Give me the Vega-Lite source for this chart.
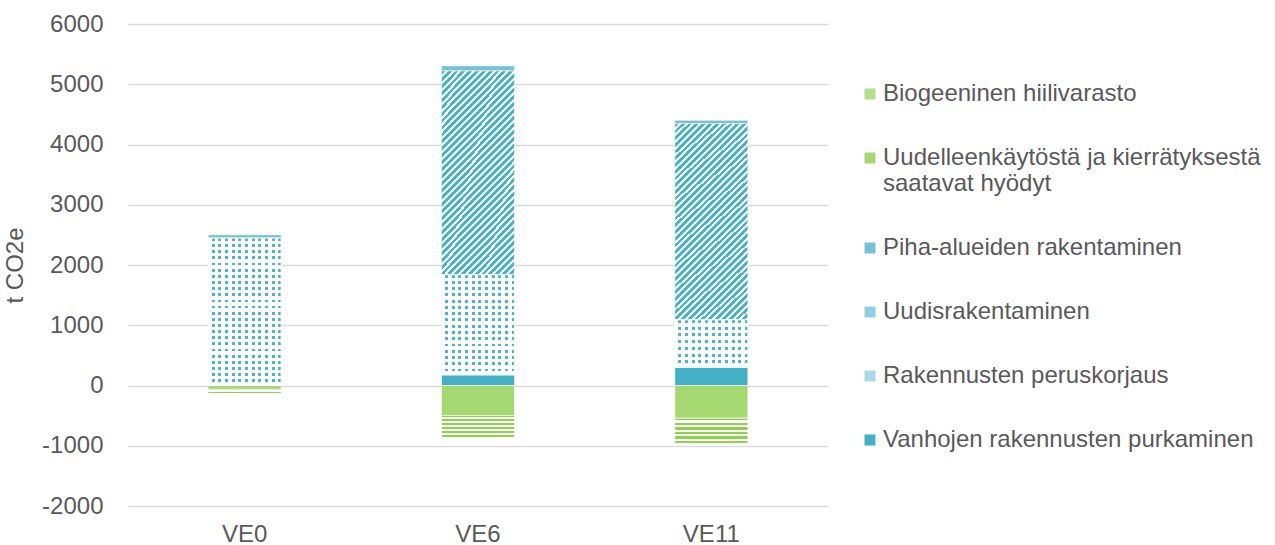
{
  "$schema": "https://vega.github.io/schema/vega-lite/v6.json",
  "width": 700,
  "height": 482,
  "autosize": "none",
  "padding": {"left": 128, "top": 24, "right": 447, "bottom": 39},
  "background": "white",
  "config": {
    "font": "Liberation Sans",
    "view": {"stroke": null},
    "axis": {"labelColor": "#595959", "titleColor": "#595959", "labelFont": "Liberation Sans", "titleFont": "Liberation Sans"},
    "legend": {"labelColor": "#595959", "labelFont": "Liberation Sans"}
  },
  "data": {
    "values": [
      {"ve": "VE0", "series": "Vanhojen rakennusten purkaminen", "ord": 0, "value": 0},
      {"ve": "VE0", "series": "Rakennusten peruskorjaus", "ord": 1, "value": 2447},
      {"ve": "VE0", "series": "Uudisrakentaminen", "ord": 2, "value": 0},
      {"ve": "VE0", "series": "Piha-alueiden rakentaminen", "ord": 3, "value": 56},
      {"ve": "VE0", "series": "Uudelleenkäytöstä ja kierrätyksestä saatavat hyödyt", "ord": 4, "value": -65},
      {"ve": "VE0", "series": "Biogeeninen hiilivarasto", "ord": 5, "value": -70},
      {"ve": "VE6", "series": "Vanhojen rakennusten purkaminen", "ord": 0, "value": 178},
      {"ve": "VE6", "series": "Rakennusten peruskorjaus", "ord": 1, "value": 1661},
      {"ve": "VE6", "series": "Uudisrakentaminen", "ord": 2, "value": 3382},
      {"ve": "VE6", "series": "Piha-alueiden rakentaminen", "ord": 3, "value": 85},
      {"ve": "VE6", "series": "Uudelleenkäytöstä ja kierrätyksestä saatavat hyödyt", "ord": 4, "value": -498},
      {"ve": "VE6", "series": "Biogeeninen hiilivarasto", "ord": 5, "value": -387},
      {"ve": "VE11", "series": "Vanhojen rakennusten purkaminen", "ord": 0, "value": 304},
      {"ve": "VE11", "series": "Rakennusten peruskorjaus", "ord": 1, "value": 787},
      {"ve": "VE11", "series": "Uudisrakentaminen", "ord": 2, "value": 3256},
      {"ve": "VE11", "series": "Piha-alueiden rakentaminen", "ord": 3, "value": 55},
      {"ve": "VE11", "series": "Uudelleenkäytöstä ja kierrätyksestä saatavat hyödyt", "ord": 4, "value": -543},
      {"ve": "VE11", "series": "Biogeeninen hiilivarasto", "ord": 5, "value": -454}
    ]
  },
  "transform": [
    {"stack": "value", "groupby": ["ve"], "sort": [{"field": "ord", "order": "ascending"}], "as": ["y0", "y1"], "offset": "zero"}
  ],
  "encoding": {
    "x": {
      "field": "ve", "type": "nominal", "sort": ["VE0", "VE6", "VE11"],
      "scale": {"paddingInner": 0.687, "paddingOuter": 0.3435},
      "axis": {"title": null, "labelAngle": 0, "labelFontSize": 24, "labelPadding": 16, "ticks": false, "domain": false}
    },
    "y": {
      "field": "y0", "type": "quantitative",
      "scale": {"domain": [-2000, 6000], "nice": false},
      "axis": {
        "title": "t CO2e", "titleFontSize": 24, "titleFontWeight": "normal", "titlePadding": 14,
        "values": [-2000, -1000, 0, 1000, 2000, 3000, 4000, 5000, 6000],
        "labelExpr": "'' + datum.value",
        "labelFontSize": 24, "labelPadding": 25, "ticks": false, "domain": false,
        "gridColor": "#d9d9d9", "gridWidth": 1.3
      }
    },
    "y2": {"field": "y1"}
  },
  "layer": [
    {
      "mark": {"type": "bar", "stroke": "white", "strokeWidth": 0.6},
      "encoding": {
        "color": {
          "field": "series", "type": "nominal",
          "scale": {
            "domain": ["Biogeeninen hiilivarasto", "Uudelleenkäytöstä ja kierrätyksestä saatavat hyödyt", "Piha-alueiden rakentaminen", "Uudisrakentaminen", "Rakennusten peruskorjaus", "Vanhojen rakennusten purkaminen"],
            "range": ["#b4df8c", "#a6d872", "#78c1d2", "#8fd0dd", "#a9dbe6", "#43b0c6"]
          },
          "legend": {
            "title": null, "orient": "none", "legendX": 730, "legendY": 58, "padding": 0,
            "symbolType": "square", "symbolSize": 121, "symbolStrokeWidth": 0,
            "labelFontSize": 24, "labelOffset": 1, "rowPadding": 40, "labelLimit": 500,
            "labelExpr": "datum.label == 'Uudelleenkäytöstä ja kierrätyksestä saatavat hyödyt' ? ['Uudelleenkäytöstä ja kierrätyksestä', 'saatavat hyödyt'] : datum.label"
          }
        }
      }
    },
    {
      "transform": [{"filter": "datum.series == 'Biogeeninen hiilivarasto'"}],
      "mark": {"type": "bar", "stroke": "white", "strokeWidth": 0.6,
        "fill": {"gradient": "linear", "x1": 0, "y1": 0, "x2": 0, "y2": 1, "stops": [
          {"offset": 0, "color": "#8fd14f"}, {"offset": 0.0833, "color": "#8fd14f"}, {"offset": 0.0833, "color": "#ffffff"}, {"offset": 0.1667, "color": "#ffffff"},
          {"offset": 0.1667, "color": "#8fd14f"}, {"offset": 0.25, "color": "#8fd14f"}, {"offset": 0.25, "color": "#ffffff"}, {"offset": 0.3333, "color": "#ffffff"},
          {"offset": 0.3333, "color": "#8fd14f"}, {"offset": 0.4167, "color": "#8fd14f"}, {"offset": 0.4167, "color": "#ffffff"}, {"offset": 0.5, "color": "#ffffff"},
          {"offset": 0.5, "color": "#8fd14f"}, {"offset": 0.5833, "color": "#8fd14f"}, {"offset": 0.5833, "color": "#ffffff"}, {"offset": 0.6667, "color": "#ffffff"},
          {"offset": 0.6667, "color": "#8fd14f"}, {"offset": 0.75, "color": "#8fd14f"}, {"offset": 0.75, "color": "#ffffff"}, {"offset": 0.8333, "color": "#ffffff"},
          {"offset": 0.8333, "color": "#8fd14f"}, {"offset": 0.9167, "color": "#8fd14f"}, {"offset": 0.9167, "color": "#ffffff"}, {"offset": 1, "color": "#ffffff"}
        ]}
      }
    },
    {
      "transform": [{"filter": "datum.series == 'Uudisrakentaminen' && datum.value > 0"}],
      "mark": {"type": "bar", "stroke": "white", "strokeWidth": 0.6,
        "fill": {"gradient": "linear", "x1": 0, "y1": 0, "x2": 0.44, "y2": 1.205, "stops": [
          {"offset": 0.0, "color": "#45b5c8"}, {"offset": 0.014, "color": "#45b5c8"}, {"offset": 0.014, "color": "#ffffff"}, {"offset": 0.025, "color": "#ffffff"},
          {"offset": 0.025, "color": "#45b5c8"}, {"offset": 0.039, "color": "#45b5c8"}, {"offset": 0.039, "color": "#ffffff"}, {"offset": 0.05, "color": "#ffffff"},
          {"offset": 0.05, "color": "#45b5c8"}, {"offset": 0.064, "color": "#45b5c8"}, {"offset": 0.064, "color": "#ffffff"}, {"offset": 0.075, "color": "#ffffff"},
          {"offset": 0.075, "color": "#45b5c8"}, {"offset": 0.089, "color": "#45b5c8"}, {"offset": 0.089, "color": "#ffffff"}, {"offset": 0.1, "color": "#ffffff"},
          {"offset": 0.1, "color": "#45b5c8"}, {"offset": 0.114, "color": "#45b5c8"}, {"offset": 0.114, "color": "#ffffff"}, {"offset": 0.125, "color": "#ffffff"},
          {"offset": 0.125, "color": "#45b5c8"}, {"offset": 0.139, "color": "#45b5c8"}, {"offset": 0.139, "color": "#ffffff"}, {"offset": 0.15, "color": "#ffffff"},
          {"offset": 0.15, "color": "#45b5c8"}, {"offset": 0.164, "color": "#45b5c8"}, {"offset": 0.164, "color": "#ffffff"}, {"offset": 0.175, "color": "#ffffff"},
          {"offset": 0.175, "color": "#45b5c8"}, {"offset": 0.189, "color": "#45b5c8"}, {"offset": 0.189, "color": "#ffffff"}, {"offset": 0.2, "color": "#ffffff"},
          {"offset": 0.2, "color": "#45b5c8"}, {"offset": 0.214, "color": "#45b5c8"}, {"offset": 0.214, "color": "#ffffff"}, {"offset": 0.225, "color": "#ffffff"},
          {"offset": 0.225, "color": "#45b5c8"}, {"offset": 0.239, "color": "#45b5c8"}, {"offset": 0.239, "color": "#ffffff"}, {"offset": 0.25, "color": "#ffffff"},
          {"offset": 0.25, "color": "#45b5c8"}, {"offset": 0.264, "color": "#45b5c8"}, {"offset": 0.264, "color": "#ffffff"}, {"offset": 0.275, "color": "#ffffff"},
          {"offset": 0.275, "color": "#45b5c8"}, {"offset": 0.289, "color": "#45b5c8"}, {"offset": 0.289, "color": "#ffffff"}, {"offset": 0.3, "color": "#ffffff"},
          {"offset": 0.3, "color": "#45b5c8"}, {"offset": 0.314, "color": "#45b5c8"}, {"offset": 0.314, "color": "#ffffff"}, {"offset": 0.325, "color": "#ffffff"},
          {"offset": 0.325, "color": "#45b5c8"}, {"offset": 0.339, "color": "#45b5c8"}, {"offset": 0.339, "color": "#ffffff"}, {"offset": 0.35, "color": "#ffffff"},
          {"offset": 0.35, "color": "#45b5c8"}, {"offset": 0.364, "color": "#45b5c8"}, {"offset": 0.364, "color": "#ffffff"}, {"offset": 0.375, "color": "#ffffff"},
          {"offset": 0.375, "color": "#45b5c8"}, {"offset": 0.389, "color": "#45b5c8"}, {"offset": 0.389, "color": "#ffffff"}, {"offset": 0.4, "color": "#ffffff"},
          {"offset": 0.4, "color": "#45b5c8"}, {"offset": 0.414, "color": "#45b5c8"}, {"offset": 0.414, "color": "#ffffff"}, {"offset": 0.425, "color": "#ffffff"},
          {"offset": 0.425, "color": "#45b5c8"}, {"offset": 0.439, "color": "#45b5c8"}, {"offset": 0.439, "color": "#ffffff"}, {"offset": 0.45, "color": "#ffffff"},
          {"offset": 0.45, "color": "#45b5c8"}, {"offset": 0.464, "color": "#45b5c8"}, {"offset": 0.464, "color": "#ffffff"}, {"offset": 0.475, "color": "#ffffff"},
          {"offset": 0.475, "color": "#45b5c8"}, {"offset": 0.489, "color": "#45b5c8"}, {"offset": 0.489, "color": "#ffffff"}, {"offset": 0.5, "color": "#ffffff"},
          {"offset": 0.5, "color": "#45b5c8"}, {"offset": 0.514, "color": "#45b5c8"}, {"offset": 0.514, "color": "#ffffff"}, {"offset": 0.525, "color": "#ffffff"},
          {"offset": 0.525, "color": "#45b5c8"}, {"offset": 0.539, "color": "#45b5c8"}, {"offset": 0.539, "color": "#ffffff"}, {"offset": 0.55, "color": "#ffffff"},
          {"offset": 0.55, "color": "#45b5c8"}, {"offset": 0.564, "color": "#45b5c8"}, {"offset": 0.564, "color": "#ffffff"}, {"offset": 0.575, "color": "#ffffff"},
          {"offset": 0.575, "color": "#45b5c8"}, {"offset": 0.589, "color": "#45b5c8"}, {"offset": 0.589, "color": "#ffffff"}, {"offset": 0.6, "color": "#ffffff"},
          {"offset": 0.6, "color": "#45b5c8"}, {"offset": 0.614, "color": "#45b5c8"}, {"offset": 0.614, "color": "#ffffff"}, {"offset": 0.625, "color": "#ffffff"},
          {"offset": 0.625, "color": "#45b5c8"}, {"offset": 0.639, "color": "#45b5c8"}, {"offset": 0.639, "color": "#ffffff"}, {"offset": 0.65, "color": "#ffffff"},
          {"offset": 0.65, "color": "#45b5c8"}, {"offset": 0.664, "color": "#45b5c8"}, {"offset": 0.664, "color": "#ffffff"}, {"offset": 0.675, "color": "#ffffff"},
          {"offset": 0.675, "color": "#45b5c8"}, {"offset": 0.689, "color": "#45b5c8"}, {"offset": 0.689, "color": "#ffffff"}, {"offset": 0.7, "color": "#ffffff"},
          {"offset": 0.7, "color": "#45b5c8"}, {"offset": 0.714, "color": "#45b5c8"}, {"offset": 0.714, "color": "#ffffff"}, {"offset": 0.725, "color": "#ffffff"},
          {"offset": 0.725, "color": "#45b5c8"}, {"offset": 0.739, "color": "#45b5c8"}, {"offset": 0.739, "color": "#ffffff"}, {"offset": 0.75, "color": "#ffffff"},
          {"offset": 0.75, "color": "#45b5c8"}, {"offset": 0.764, "color": "#45b5c8"}, {"offset": 0.764, "color": "#ffffff"}, {"offset": 0.775, "color": "#ffffff"},
          {"offset": 0.775, "color": "#45b5c8"}, {"offset": 0.789, "color": "#45b5c8"}, {"offset": 0.789, "color": "#ffffff"}, {"offset": 0.8, "color": "#ffffff"},
          {"offset": 0.8, "color": "#45b5c8"}, {"offset": 0.814, "color": "#45b5c8"}, {"offset": 0.814, "color": "#ffffff"}, {"offset": 0.825, "color": "#ffffff"},
          {"offset": 0.825, "color": "#45b5c8"}, {"offset": 0.839, "color": "#45b5c8"}, {"offset": 0.839, "color": "#ffffff"}, {"offset": 0.85, "color": "#ffffff"},
          {"offset": 0.85, "color": "#45b5c8"}, {"offset": 0.864, "color": "#45b5c8"}, {"offset": 0.864, "color": "#ffffff"}, {"offset": 0.875, "color": "#ffffff"},
          {"offset": 0.875, "color": "#45b5c8"}, {"offset": 0.889, "color": "#45b5c8"}, {"offset": 0.889, "color": "#ffffff"}, {"offset": 0.9, "color": "#ffffff"},
          {"offset": 0.9, "color": "#45b5c8"}, {"offset": 0.914, "color": "#45b5c8"}, {"offset": 0.914, "color": "#ffffff"}, {"offset": 0.925, "color": "#ffffff"},
          {"offset": 0.925, "color": "#45b5c8"}, {"offset": 0.939, "color": "#45b5c8"}, {"offset": 0.939, "color": "#ffffff"}, {"offset": 0.95, "color": "#ffffff"},
          {"offset": 0.95, "color": "#45b5c8"}, {"offset": 0.964, "color": "#45b5c8"}, {"offset": 0.964, "color": "#ffffff"}, {"offset": 0.975, "color": "#ffffff"},
          {"offset": 0.975, "color": "#45b5c8"}, {"offset": 0.989, "color": "#45b5c8"}, {"offset": 0.989, "color": "#ffffff"}, {"offset": 1, "color": "#ffffff"}
        ]}
      }
    },
    {
      "transform": [{"filter": "datum.series == 'Rakennusten peruskorjaus' && datum.ve == 'VE0'"}],
      "mark": {"type": "bar", "stroke": "white", "strokeWidth": 0.6,
        "fill": {"gradient": "linear", "x1": 0, "y1": 0, "x2": 0, "y2": 1, "stops": [
          {"offset": 0, "color": "#4ab6ca"}, {"offset": 0.0188, "color": "#4ab6ca"}, {"offset": 0.0188, "color": "#ffffff"}, {"offset": 0.0417, "color": "#ffffff"},
          {"offset": 0.0417, "color": "#4ab6ca"}, {"offset": 0.0604, "color": "#4ab6ca"}, {"offset": 0.0604, "color": "#ffffff"}, {"offset": 0.0833, "color": "#ffffff"},
          {"offset": 0.0833, "color": "#4ab6ca"}, {"offset": 0.1021, "color": "#4ab6ca"}, {"offset": 0.1021, "color": "#ffffff"}, {"offset": 0.125, "color": "#ffffff"},
          {"offset": 0.125, "color": "#4ab6ca"}, {"offset": 0.1438, "color": "#4ab6ca"}, {"offset": 0.1438, "color": "#ffffff"}, {"offset": 0.1667, "color": "#ffffff"},
          {"offset": 0.1667, "color": "#4ab6ca"}, {"offset": 0.1854, "color": "#4ab6ca"}, {"offset": 0.1854, "color": "#ffffff"}, {"offset": 0.2083, "color": "#ffffff"},
          {"offset": 0.2083, "color": "#4ab6ca"}, {"offset": 0.2271, "color": "#4ab6ca"}, {"offset": 0.2271, "color": "#ffffff"}, {"offset": 0.25, "color": "#ffffff"},
          {"offset": 0.25, "color": "#4ab6ca"}, {"offset": 0.2688, "color": "#4ab6ca"}, {"offset": 0.2688, "color": "#ffffff"}, {"offset": 0.2917, "color": "#ffffff"},
          {"offset": 0.2917, "color": "#4ab6ca"}, {"offset": 0.3104, "color": "#4ab6ca"}, {"offset": 0.3104, "color": "#ffffff"}, {"offset": 0.3333, "color": "#ffffff"},
          {"offset": 0.3333, "color": "#4ab6ca"}, {"offset": 0.3521, "color": "#4ab6ca"}, {"offset": 0.3521, "color": "#ffffff"}, {"offset": 0.375, "color": "#ffffff"},
          {"offset": 0.375, "color": "#4ab6ca"}, {"offset": 0.3938, "color": "#4ab6ca"}, {"offset": 0.3938, "color": "#ffffff"}, {"offset": 0.4167, "color": "#ffffff"},
          {"offset": 0.4167, "color": "#4ab6ca"}, {"offset": 0.4354, "color": "#4ab6ca"}, {"offset": 0.4354, "color": "#ffffff"}, {"offset": 0.4583, "color": "#ffffff"},
          {"offset": 0.4583, "color": "#4ab6ca"}, {"offset": 0.4771, "color": "#4ab6ca"}, {"offset": 0.4771, "color": "#ffffff"}, {"offset": 0.5, "color": "#ffffff"},
          {"offset": 0.5, "color": "#4ab6ca"}, {"offset": 0.5188, "color": "#4ab6ca"}, {"offset": 0.5188, "color": "#ffffff"}, {"offset": 0.5417, "color": "#ffffff"},
          {"offset": 0.5417, "color": "#4ab6ca"}, {"offset": 0.5604, "color": "#4ab6ca"}, {"offset": 0.5604, "color": "#ffffff"}, {"offset": 0.5833, "color": "#ffffff"},
          {"offset": 0.5833, "color": "#4ab6ca"}, {"offset": 0.6021, "color": "#4ab6ca"}, {"offset": 0.6021, "color": "#ffffff"}, {"offset": 0.625, "color": "#ffffff"},
          {"offset": 0.625, "color": "#4ab6ca"}, {"offset": 0.6438, "color": "#4ab6ca"}, {"offset": 0.6438, "color": "#ffffff"}, {"offset": 0.6667, "color": "#ffffff"},
          {"offset": 0.6667, "color": "#4ab6ca"}, {"offset": 0.6854, "color": "#4ab6ca"}, {"offset": 0.6854, "color": "#ffffff"}, {"offset": 0.7083, "color": "#ffffff"},
          {"offset": 0.7083, "color": "#4ab6ca"}, {"offset": 0.7271, "color": "#4ab6ca"}, {"offset": 0.7271, "color": "#ffffff"}, {"offset": 0.75, "color": "#ffffff"},
          {"offset": 0.75, "color": "#4ab6ca"}, {"offset": 0.7688, "color": "#4ab6ca"}, {"offset": 0.7688, "color": "#ffffff"}, {"offset": 0.7917, "color": "#ffffff"},
          {"offset": 0.7917, "color": "#4ab6ca"}, {"offset": 0.8104, "color": "#4ab6ca"}, {"offset": 0.8104, "color": "#ffffff"}, {"offset": 0.8333, "color": "#ffffff"},
          {"offset": 0.8333, "color": "#4ab6ca"}, {"offset": 0.8521, "color": "#4ab6ca"}, {"offset": 0.8521, "color": "#ffffff"}, {"offset": 0.875, "color": "#ffffff"},
          {"offset": 0.875, "color": "#4ab6ca"}, {"offset": 0.8938, "color": "#4ab6ca"}, {"offset": 0.8938, "color": "#ffffff"}, {"offset": 0.9167, "color": "#ffffff"},
          {"offset": 0.9167, "color": "#4ab6ca"}, {"offset": 0.9354, "color": "#4ab6ca"}, {"offset": 0.9354, "color": "#ffffff"}, {"offset": 0.9583, "color": "#ffffff"},
          {"offset": 0.9583, "color": "#4ab6ca"}, {"offset": 0.9771, "color": "#4ab6ca"}, {"offset": 0.9771, "color": "#ffffff"}, {"offset": 1, "color": "#ffffff"}
        ]}
      }
    },
    {
      "transform": [{"filter": "datum.series == 'Rakennusten peruskorjaus' && datum.ve == 'VE6'"}],
      "mark": {"type": "bar", "stroke": "white", "strokeWidth": 0.6,
        "fill": {"gradient": "linear", "x1": 0, "y1": 0, "x2": 0, "y2": 1, "stops": [
          {"offset": 0, "color": "#4ab6ca"}, {"offset": 0.0281, "color": "#4ab6ca"}, {"offset": 0.0281, "color": "#ffffff"}, {"offset": 0.0625, "color": "#ffffff"},
          {"offset": 0.0625, "color": "#4ab6ca"}, {"offset": 0.0906, "color": "#4ab6ca"}, {"offset": 0.0906, "color": "#ffffff"}, {"offset": 0.125, "color": "#ffffff"},
          {"offset": 0.125, "color": "#4ab6ca"}, {"offset": 0.1531, "color": "#4ab6ca"}, {"offset": 0.1531, "color": "#ffffff"}, {"offset": 0.1875, "color": "#ffffff"},
          {"offset": 0.1875, "color": "#4ab6ca"}, {"offset": 0.2156, "color": "#4ab6ca"}, {"offset": 0.2156, "color": "#ffffff"}, {"offset": 0.25, "color": "#ffffff"},
          {"offset": 0.25, "color": "#4ab6ca"}, {"offset": 0.2781, "color": "#4ab6ca"}, {"offset": 0.2781, "color": "#ffffff"}, {"offset": 0.3125, "color": "#ffffff"},
          {"offset": 0.3125, "color": "#4ab6ca"}, {"offset": 0.3406, "color": "#4ab6ca"}, {"offset": 0.3406, "color": "#ffffff"}, {"offset": 0.375, "color": "#ffffff"},
          {"offset": 0.375, "color": "#4ab6ca"}, {"offset": 0.4031, "color": "#4ab6ca"}, {"offset": 0.4031, "color": "#ffffff"}, {"offset": 0.4375, "color": "#ffffff"},
          {"offset": 0.4375, "color": "#4ab6ca"}, {"offset": 0.4656, "color": "#4ab6ca"}, {"offset": 0.4656, "color": "#ffffff"}, {"offset": 0.5, "color": "#ffffff"},
          {"offset": 0.5, "color": "#4ab6ca"}, {"offset": 0.5281, "color": "#4ab6ca"}, {"offset": 0.5281, "color": "#ffffff"}, {"offset": 0.5625, "color": "#ffffff"},
          {"offset": 0.5625, "color": "#4ab6ca"}, {"offset": 0.5906, "color": "#4ab6ca"}, {"offset": 0.5906, "color": "#ffffff"}, {"offset": 0.625, "color": "#ffffff"},
          {"offset": 0.625, "color": "#4ab6ca"}, {"offset": 0.6531, "color": "#4ab6ca"}, {"offset": 0.6531, "color": "#ffffff"}, {"offset": 0.6875, "color": "#ffffff"},
          {"offset": 0.6875, "color": "#4ab6ca"}, {"offset": 0.7156, "color": "#4ab6ca"}, {"offset": 0.7156, "color": "#ffffff"}, {"offset": 0.75, "color": "#ffffff"},
          {"offset": 0.75, "color": "#4ab6ca"}, {"offset": 0.7781, "color": "#4ab6ca"}, {"offset": 0.7781, "color": "#ffffff"}, {"offset": 0.8125, "color": "#ffffff"},
          {"offset": 0.8125, "color": "#4ab6ca"}, {"offset": 0.8406, "color": "#4ab6ca"}, {"offset": 0.8406, "color": "#ffffff"}, {"offset": 0.875, "color": "#ffffff"},
          {"offset": 0.875, "color": "#4ab6ca"}, {"offset": 0.9031, "color": "#4ab6ca"}, {"offset": 0.9031, "color": "#ffffff"}, {"offset": 0.9375, "color": "#ffffff"},
          {"offset": 0.9375, "color": "#4ab6ca"}, {"offset": 0.9656, "color": "#4ab6ca"}, {"offset": 0.9656, "color": "#ffffff"}, {"offset": 1, "color": "#ffffff"}
        ]}
      }
    },
    {
      "transform": [{"filter": "datum.series == 'Rakennusten peruskorjaus' && datum.ve == 'VE11'"}],
      "mark": {"type": "bar", "stroke": "white", "strokeWidth": 0.6,
        "fill": {"gradient": "linear", "x1": 0, "y1": 0, "x2": 0, "y2": 1, "stops": [
          {"offset": 0, "color": "#4ab6ca"}, {"offset": 0.0643, "color": "#4ab6ca"}, {"offset": 0.0643, "color": "#ffffff"}, {"offset": 0.1429, "color": "#ffffff"},
          {"offset": 0.1429, "color": "#4ab6ca"}, {"offset": 0.2071, "color": "#4ab6ca"}, {"offset": 0.2071, "color": "#ffffff"}, {"offset": 0.2857, "color": "#ffffff"},
          {"offset": 0.2857, "color": "#4ab6ca"}, {"offset": 0.35, "color": "#4ab6ca"}, {"offset": 0.35, "color": "#ffffff"}, {"offset": 0.4286, "color": "#ffffff"},
          {"offset": 0.4286, "color": "#4ab6ca"}, {"offset": 0.4929, "color": "#4ab6ca"}, {"offset": 0.4929, "color": "#ffffff"}, {"offset": 0.5714, "color": "#ffffff"},
          {"offset": 0.5714, "color": "#4ab6ca"}, {"offset": 0.6357, "color": "#4ab6ca"}, {"offset": 0.6357, "color": "#ffffff"}, {"offset": 0.7143, "color": "#ffffff"},
          {"offset": 0.7143, "color": "#4ab6ca"}, {"offset": 0.7786, "color": "#4ab6ca"}, {"offset": 0.7786, "color": "#ffffff"}, {"offset": 0.8571, "color": "#ffffff"},
          {"offset": 0.8571, "color": "#4ab6ca"}, {"offset": 0.9214, "color": "#4ab6ca"}, {"offset": 0.9214, "color": "#ffffff"}, {"offset": 1, "color": "#ffffff"}
        ]}
      }
    },
    {
      "transform": [{"filter": "datum.series == 'Rakennusten peruskorjaus'"}],
      "mark": {"type": "bar", "stroke": "white", "strokeWidth": 0.6,
        "fill": {"gradient": "linear", "x1": 0, "y1": 0, "x2": 1, "y2": 0, "stops": [
          {"offset": 0, "color": "#ffffff"}, {"offset": 0.05, "color": "#ffffff"}, {"offset": 0.05, "color": "rgba(255,255,255,0)"}, {"offset": 0.0909, "color": "rgba(255,255,255,0)"},
          {"offset": 0.0909, "color": "#ffffff"}, {"offset": 0.1409, "color": "#ffffff"}, {"offset": 0.1409, "color": "rgba(255,255,255,0)"}, {"offset": 0.1818, "color": "rgba(255,255,255,0)"},
          {"offset": 0.1818, "color": "#ffffff"}, {"offset": 0.2318, "color": "#ffffff"}, {"offset": 0.2318, "color": "rgba(255,255,255,0)"}, {"offset": 0.2727, "color": "rgba(255,255,255,0)"},
          {"offset": 0.2727, "color": "#ffffff"}, {"offset": 0.3227, "color": "#ffffff"}, {"offset": 0.3227, "color": "rgba(255,255,255,0)"}, {"offset": 0.3636, "color": "rgba(255,255,255,0)"},
          {"offset": 0.3636, "color": "#ffffff"}, {"offset": 0.4136, "color": "#ffffff"}, {"offset": 0.4136, "color": "rgba(255,255,255,0)"}, {"offset": 0.4545, "color": "rgba(255,255,255,0)"},
          {"offset": 0.4545, "color": "#ffffff"}, {"offset": 0.5045, "color": "#ffffff"}, {"offset": 0.5045, "color": "rgba(255,255,255,0)"}, {"offset": 0.5455, "color": "rgba(255,255,255,0)"},
          {"offset": 0.5455, "color": "#ffffff"}, {"offset": 0.5955, "color": "#ffffff"}, {"offset": 0.5955, "color": "rgba(255,255,255,0)"}, {"offset": 0.6364, "color": "rgba(255,255,255,0)"},
          {"offset": 0.6364, "color": "#ffffff"}, {"offset": 0.6864, "color": "#ffffff"}, {"offset": 0.6864, "color": "rgba(255,255,255,0)"}, {"offset": 0.7273, "color": "rgba(255,255,255,0)"},
          {"offset": 0.7273, "color": "#ffffff"}, {"offset": 0.7773, "color": "#ffffff"}, {"offset": 0.7773, "color": "rgba(255,255,255,0)"}, {"offset": 0.8182, "color": "rgba(255,255,255,0)"},
          {"offset": 0.8182, "color": "#ffffff"}, {"offset": 0.8682, "color": "#ffffff"}, {"offset": 0.8682, "color": "rgba(255,255,255,0)"}, {"offset": 0.9091, "color": "rgba(255,255,255,0)"},
          {"offset": 0.9091, "color": "#ffffff"}, {"offset": 0.9591, "color": "#ffffff"}, {"offset": 0.9591, "color": "rgba(255,255,255,0)"}, {"offset": 1, "color": "rgba(255,255,255,0)"}
        ]}
      }
    }
  ]
}
